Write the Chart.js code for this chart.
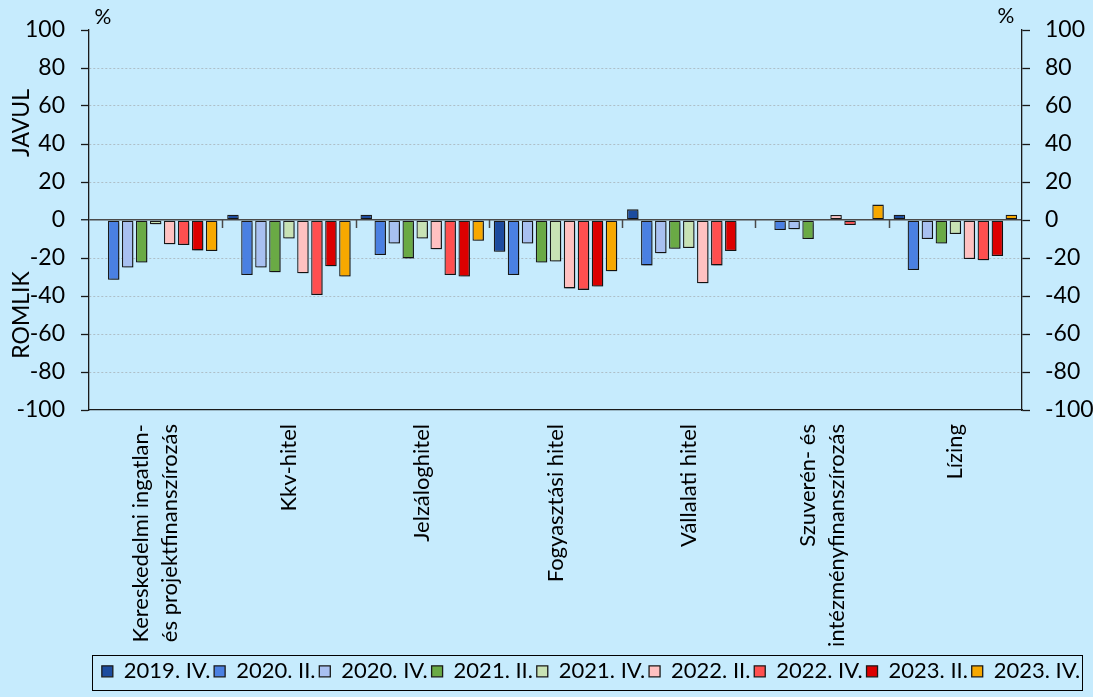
<!DOCTYPE html>
<html>
<head>
<meta charset="utf-8">
<script src="https://cdn.jsdelivr.net/npm/chart.js@4.4.0/dist/chart.umd.min.js"></script>
<style>
  html, body { margin: 0; padding: 0; background: #c6ebfd; }
  #wrap { width: 1093px; height: 697px; position: relative; }
</style>
</head>
<body>
<div id="wrap"><canvas id="c" width="1093" height="697"></canvas></div>
<script>
const categories = [
  ["Kereskedelmi ingatlan-", "és projektfinanszírozás"],
  "Kkv-hitel",
  "Jelzáloghitel",
  "Fogyasztási hitel",
  "Vállalati hitel",
  ["Szuverén- és", "intézményfinanszírozás"],
  "Lízing"
];
const seriesNames = ["2019. IV.", "2020. II.", "2020. IV.", "2021. II.", "2021. IV.", "2022. II.", "2022. IV.", "2023. II.", "2023. IV."];
const s2019IV = [null, 2.8, 2.8, -16.7, 5.6, null, 2.8];
const s2020II = [-31.5, -29, -18.4, -29, -23.9, -5.3, -26.3];
const s2020IV = [-25, -25, -12.4, -12.4, -17.5, -4.9, -10];
const s2021II = [-22.4, -27.5, -20.2, -22.4, -15.1, -10, -12.4];
const s2021IV = [-2.3, -9.8, -9.8, -21.9, -14.7, null, -7.4];
const s2022II = [-12.8, -28, -15.4, -36, -33.3, 2.6, -20.5];
const s2022IV = [-13.2, -39.5, -29, -36.8, -23.9, -2.6, -21.2];
const s2023II = [-16, -24.4, -29.8, -35, -16.3, null, -19];
const s2023IV = [-16.3, -29.8, -10.9, -27, null, 8.1, 2.8];
const yTicks = [-100, -80, -60, -40, -20, 0, 20, 40, 60, 80, 100];

const seriesValues = [s2019IV, s2020II, s2020IV, s2021II, s2021IV, s2022II, s2022IV, s2023II, s2023IV];
const seriesColors = ["#1c4b9e", "#4a80e2", "#a8c0f1", "#6aaa45", "#c8e2b4", "#ffc1c1", "#ff4f4f", "#dc0000", "#f7a800"];

const FONT = "Lato, 'Open Sans', sans-serif";

const datasets = seriesNames.map((n, i) => ({
  label: n,
  data: seriesValues[i],
  backgroundColor: seriesColors[i],
  borderColor: "#1a1a1a",
  borderWidth: 1.3,
  borderSkipped: false,
  barPercentage: 0.82,
  categoryPercentage: 0.945
}));

const decorations = {
  id: "decorations",
  afterLayout(chart) {
    chart.legend.right = 1084;
  },
  beforeDatasetsDraw(chart) {
    const ctx = chart.ctx;
    ctx.save();
    ctx.shadowColor = "rgba(0,0,0,0.35)";
    ctx.shadowOffsetX = 2;
    ctx.shadowOffsetY = 2;
    ctx.shadowBlur = 2;
  },
  afterDatasetsDraw(chart) {
    chart.ctx.restore();
    const ctx = chart.ctx;
    const x = chart.scales.x, y = chart.scales.y;
    const y0 = y.getPixelForValue(0);
    ctx.save();
    ctx.strokeStyle = "#4a4a4a";
    ctx.lineWidth = 1.5;
    for (let i = 0; i < categories.length - 1; i++) {
      const px = Math.round((x.getPixelForValue(i) + x.getPixelForValue(i + 1)) / 2) + 0.5;
      ctx.beginPath();
      ctx.moveTo(px, y0);
      ctx.lineTo(px, y0 + 8);
      ctx.stroke();
    }
    ctx.restore();
  },
  afterDraw(chart) {
    const ctx = chart.ctx;
    const x = chart.scales.x;
    ctx.save();
    ctx.fillStyle = "#000";
    ctx.font = "22px " + FONT;
    ctx.textAlign = "right";
    ctx.textBaseline = "middle";
    const LH = 29;
    categories.forEach((lab, i) => {
      const lines = Array.isArray(lab) ? lab : [lab];
      const px = x.getPixelForValue(i);
      lines.forEach((ln, j) => {
        const cx = px + (j - (lines.length - 1) / 2) * LH;
        ctx.save();
        ctx.translate(cx, x.top + 14);
        ctx.rotate(-Math.PI / 2);
        ctx.fillText(ln, 0, 0);
        ctx.restore();
      });
    });
    ctx.font = "21px " + FONT;
    ctx.textAlign = "center";
    ctx.fillText("%", 103, 17);
    ctx.fillText("%", 1006, 16);
    ctx.font = "23px " + FONT;
    ctx.save();
    ctx.translate(22, 123);
    ctx.rotate(-Math.PI / 2);
    ctx.fillText("JAVUL", 0, 0);
    ctx.restore();
    ctx.save();
    ctx.translate(22, 315);
    ctx.rotate(-Math.PI / 2);
    ctx.fillText("ROMLIK", 0, 0);
    ctx.restore();
    const lg = chart.legend;
    ctx.strokeStyle = "#000";
    ctx.lineWidth = 1;
    ctx.strokeRect(92.5, Math.round(lg.top) - 1.5, 990, 35);
    ctx.restore();
  }
};

new Chart(document.getElementById("c"), {
  type: "bar",
  data: { labels: categories, datasets },
  options: {
    responsive: false,
    animation: false,
    layout: { padding: { top: 30, bottom: 4.7, left: 0, right: 0 } },
    plugins: {
      legend: {
        position: "bottom",
        align: "end",
        labels: {
          font: { family: FONT, size: 22 },
          color: "#000",
          boxWidth: 11,
          boxHeight: 11,
          padding: 3.8
        }
      },
      tooltip: { enabled: false }
    },
    scales: {
      x: {
        grid: { display: false, drawTicks: false },
        border: { display: true, color: "#1a1a1a", width: 1.3 },
        ticks: { display: false, autoSkip: false },
        afterFit(s) { s.height = 246.5; }
      },
      y: {
        position: "left",
        min: -100, max: 100,
        afterBuildTicks(s) { s.ticks = yTicks.map(v => ({ value: v })); },
        ticks: { padding: 16, color: "#000", font: { family: FONT, size: 23 } },
        grid: {
          drawTicks: true,
          tickLength: 8,
          tickColor: "#1a1a1a",
          tickWidth: 1.3,
          color: c => {
            if (!c.tick) return "transparent";
            if (c.tick.value === 0) return "#4a4a4a";
            if (c.tick.value === 100 || c.tick.value === -100) return "transparent";
            return "#aebfc8";
          },
          lineWidth: c => (c.tick && c.tick.value === 0) ? 1.5 : 1
        },
        border: {
          display: true, color: "#1a1a1a", width: 1.3,
          dash: c => (c.tick && c.tick.value !== 0) ? [2, 2] : []
        },
        afterFit(s) { s.width = 89; }
      },
      y2: {
        position: "right",
        min: -100, max: 100,
        afterBuildTicks(s) { s.ticks = yTicks.map(v => ({ value: v })); },
        ticks: { padding: 15, color: "#000", font: { family: FONT, size: 23 } },
        grid: {
          drawOnChartArea: false,
          drawTicks: true,
          tickLength: 8,
          tickColor: "#1a1a1a",
          tickWidth: 1.3
        },
        border: { display: true, color: "#1a1a1a", width: 1.3 },
        afterFit(s) { s.width = 71; }
      }
    }
  },
  plugins: [decorations]
});
</script>
</body>
</html>
